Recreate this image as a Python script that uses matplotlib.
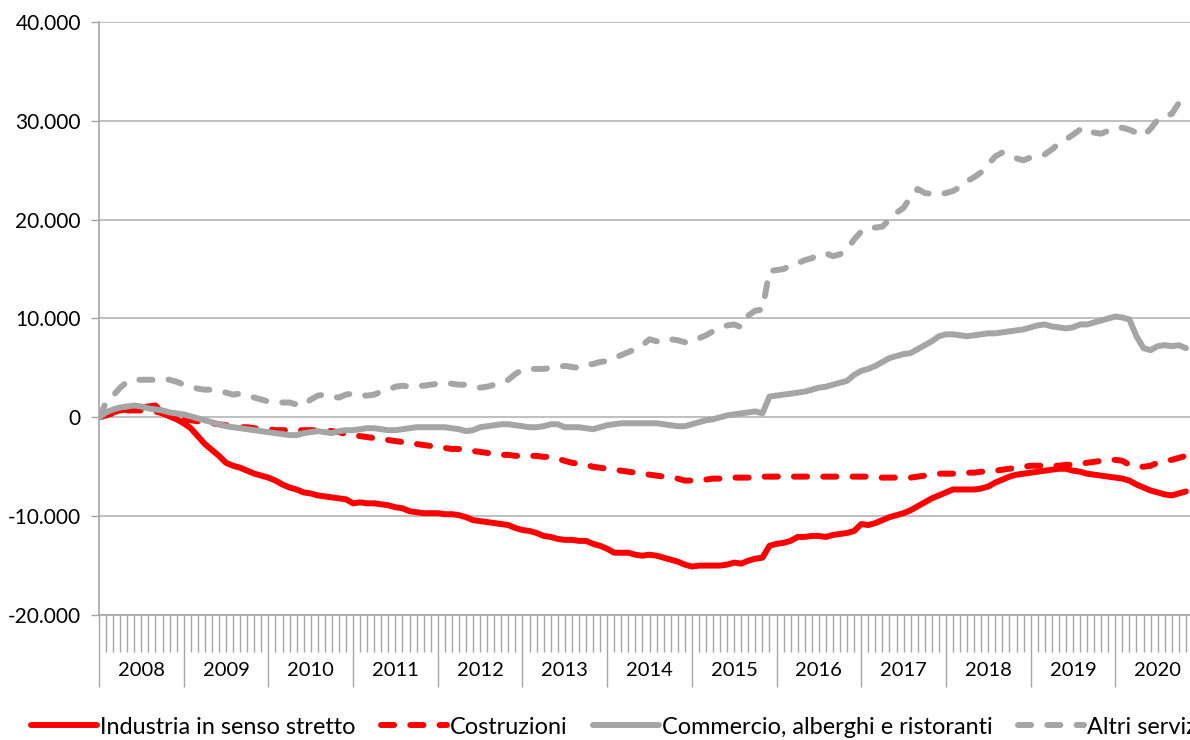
import matplotlib
matplotlib.use('Agg')
import matplotlib.pyplot as plt
import matplotlib.transforms as mtransforms
from matplotlib.ticker import FuncFormatter, MultipleLocator

# monthly values, Jan 2008 -> Nov 2020
years = [2008, 2009, 2010, 2011, 2012, 2013, 2014, 2015, 2016, 2017, 2018, 2019, 2020]

industria = [
    0, 300, 500, 700, 800, 900, 1000, 1100, 1200, 400, 100, -200,
    -600, -1100, -1900, -2700, -3300, -3900, -4600, -4900, -5100, -5400, -5700, -5900,
    -6100, -6400, -6800, -7100, -7300, -7600, -7700, -7900, -8000, -8100, -8200, -8300,
    -8700, -8600, -8700, -8700, -8800, -8900, -9100, -9200, -9500, -9600, -9700, -9700,
    -9700, -9800, -9800, -9900, -10100, -10400, -10500, -10600, -10700, -10800, -10900, -11200,
    -11400, -11500, -11700, -12000, -12100, -12300, -12400, -12400, -12500, -12500, -12800, -13000,
    -13300, -13700, -13700, -13700, -13900, -14000, -13900, -14000, -14200, -14400, -14600, -14900,
    -15100, -15000, -15000, -15000, -15000, -14900, -14700, -14800, -14500, -14300, -14200, -13000,
    -12800, -12700, -12500, -12100, -12100, -12000, -12000, -12100, -11900, -11800, -11700, -11500,
    -10800, -10900, -10700, -10400, -10100, -9900, -9700, -9400, -9000, -8600, -8200, -7900,
    -7600, -7300, -7300, -7300, -7300, -7200, -7000, -6600, -6300, -6000, -5800, -5700,
    -5600, -5500, -5400, -5300, -5200, -5200, -5400, -5500, -5700, -5800, -5900, -6000,
    -6100, -6200, -6400, -6800, -7100, -7400, -7600, -7800, -7900, -7700, -7500,
]

costruzioni = [
    0, 200, 400, 600, 700, 700, 700, 700, 600, 400, 200, 0,
    -200, -300, -400, -500, -600, -700, -800, -900, -1000, -1000, -1100, -1200,
    -1200, -1300, -1300, -1300, -1300, -1300, -1300, -1300, -1300, -1400, -1500, -1700,
    -1800, -1900, -2000, -2100, -2200, -2300, -2400, -2500, -2600, -2700, -2800, -2900,
    -3000, -3100, -3200, -3200, -3300, -3400, -3500, -3600, -3700, -3800, -3800, -3900,
    -3900, -3900, -3900, -4000, -4000, -4200, -4400, -4600, -4700, -4800, -5000, -5100,
    -5200, -5300, -5400, -5500, -5600, -5700, -5800, -5900, -6000, -6100, -6200, -6400,
    -6400, -6300, -6300, -6200, -6200, -6200, -6100, -6100, -6100, -6000, -6000, -6000,
    -6000, -6000, -6000, -6000, -6000, -6000, -6000, -6000, -6000, -6000, -6000, -6000,
    -6000, -6000, -6100, -6100, -6100, -6100, -6100, -6100, -6000, -5900, -5800, -5700,
    -5700, -5700, -5600, -5600, -5600, -5500, -5500, -5400, -5300, -5200, -5100, -5000,
    -4900, -4900, -4900, -4900, -4900, -4800, -4800, -4700, -4600, -4500, -4400, -4300,
    -4300, -4400, -4800, -5000, -5000, -4900, -4600, -4400, -4300, -4100, -3900,
]

commercio = [
    0, 500, 800, 1000, 1100, 1200, 1100, 900, 800, 700, 500, 400,
    300, 100, -100, -300, -500, -700, -900, -1000, -1100, -1200, -1300, -1400,
    -1500, -1600, -1700, -1800, -1800, -1600, -1500, -1400, -1500, -1600, -1400, -1300,
    -1300, -1200, -1100, -1100, -1200, -1300, -1300, -1200, -1100, -1000, -1000, -1000,
    -1000, -1000, -1100, -1200, -1400, -1300, -1000, -900, -800, -700, -700, -800,
    -900, -1000, -1000, -900, -700, -700, -1000, -1000, -1000, -1100, -1200, -1000,
    -800, -700, -600, -600, -600, -600, -600, -600, -700, -800, -900, -900,
    -700, -500, -300, -200, 0, 200, 300, 400, 500, 600, 400, 2100,
    2200, 2300, 2400, 2500, 2600, 2800, 3000, 3100, 3300, 3500, 3700, 4300,
    4700, 4900, 5200, 5600, 6000, 6200, 6400, 6500, 6900, 7300, 7700, 8200,
    8400, 8400, 8300, 8200, 8300, 8400, 8500, 8500, 8600, 8700, 8800, 8900,
    9100, 9300, 9400, 9200, 9100, 9000, 9100, 9400, 9400, 9600, 9800, 10000,
    10200, 10100, 9900, 8200, 7000, 6800, 7200, 7300, 7200, 7300, 7000,
]

altri_servizi = [
    0, 1500, 2200, 3000, 3600, 3800, 3800, 3800, 3800, 3900, 3800, 3600,
    3300, 3100, 2900, 2800, 2800, 2700, 2500, 2300, 2400, 2200, 2000, 1800,
    1600, 1600, 1500, 1500, 1300, 1200, 1800, 2200, 2300, 2100, 2000, 2300,
    2400, 2200, 2200, 2300, 2600, 2800, 3100, 3200, 3100, 3200, 3200, 3300,
    3400, 3500, 3400, 3300, 3300, 3200, 3000, 3100, 3300, 3500, 3800, 4400,
    4800, 4900, 4900, 4900, 5000, 5100, 5200, 5100, 5000, 5300, 5400, 5600,
    5700, 6000, 6300, 6600, 6900, 7300, 7900, 7700, 7600, 7900, 7800, 7600,
    7600, 8000, 8300, 8700, 9000, 9300, 9400, 9100, 10300, 10800, 10900, 14800,
    14900, 15000, 15400, 15600, 15900, 16100, 16500, 16600, 16300, 16500, 17000, 18000,
    18800, 19200, 19200, 19300, 20000, 20700, 21200, 22300, 23100, 22700, 22600, 22500,
    22700, 22900, 23300, 23900, 24300, 24800, 25600, 26400, 26800, 26600, 26200, 26000,
    26300, 26500, 26600, 27100, 27700, 28100, 28600, 29100, 29300, 28800, 28700, 29000,
    29300, 29300, 29100, 28800, 28500, 29200, 30100, 30500, 30700, 31800, 32900,
]

labels = ['Industria in senso stretto', 'Costruzioni',
          'Commercio, alberghi e ristoranti', 'Altri servizi']

plt.rcParams['font.family'] = ['Lato', 'DejaVu Sans']

RED = '#FF0000'
GREY = '#A5A5A5'
AXIS = '#A6A6A6'
W, H = 1190, 740

fig = plt.figure(figsize=(W / 100, H / 100), dpi=100)
# plot area runs slightly past the right edge of the picture, like the original crop
ax = fig.add_axes([99 / W, 1 - 615 / H, (1200 - 99) / W, (615 - 22) / H])

x = list(range(len(industria)))
lw = 4.3
dash = (2.2, 2.7)
ax.plot(x, industria, color=RED, lw=lw, solid_capstyle='round', solid_joinstyle='round',
        label=labels[0], zorder=3)
ax.plot(x, costruzioni, color=RED, lw=lw, dashes=dash, dash_capstyle='round',
        dash_joinstyle='round', label=labels[1], zorder=3)
ax.plot(x, commercio, color=GREY, lw=lw, solid_capstyle='round', solid_joinstyle='round',
        label=labels[2], zorder=3)
ax.plot(x, altri_servizi, color=GREY, lw=lw, dashes=dash, dash_capstyle='round',
        dash_joinstyle='round', label=labels[3], zorder=3)

ax.set_xlim(0, 12 * len(years))
ax.set_ylim(-20000, 40000)

# y axis
ax.yaxis.set_major_locator(MultipleLocator(10000))
ax.yaxis.set_major_formatter(FuncFormatter(lambda v, p: f"{v:,.0f}".replace(',', '.')))
ax.grid(axis='y', color='#BABABA', lw=1.3, zorder=0)
ax.tick_params(axis='y', length=6, width=1, color=AXIS, labelsize=15, pad=7)

# x axis: one tick per month, long separators between years
ax.set_xticks([12 * i for i in range(len(years))])
ax.set_xticks(range(12 * len(years)), minor=True)
ax.tick_params(axis='x', which='major', length=52, width=1, color=AXIS, labelbottom=False)
ax.tick_params(axis='x', which='minor', length=26.5, width=1, color=AXIS)

for s in ['top', 'right']:
    ax.spines[s].set_visible(False)
for s in ['left', 'bottom']:
    ax.spines[s].set_color(AXIS)
    ax.spines[s].set_linewidth(1.2)

trans = mtransforms.blended_transform_factory(ax.transData, ax.transAxes)
for i, yr in enumerate(years):
    ax.text(12 * i + 6, -0.093, str(yr), transform=trans, ha='center', va='center',
            fontsize=14.5)

fig.legend(loc='center left', bbox_to_anchor=(31 / W, 1 - 727 / H), ncol=4,
           frameon=False, fontsize=16.9, handlelength=2.8, handletextpad=0.12,
           columnspacing=1.1, borderpad=0, borderaxespad=0)

fig.savefig('out.png', dpi=100)
